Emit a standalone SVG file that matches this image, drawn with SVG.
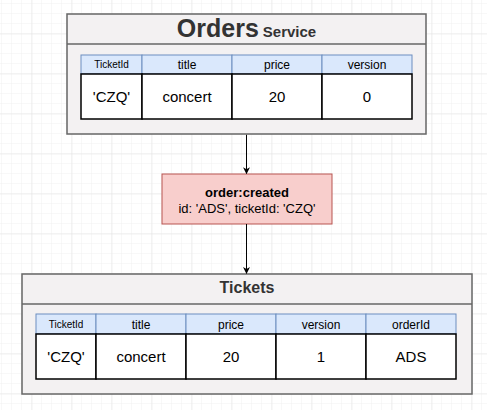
<svg xmlns="http://www.w3.org/2000/svg" width="487" height="410" viewBox="0 0 487 410">
<defs>
<pattern id="minor" x="2" y="4" width="10" height="10" patternUnits="userSpaceOnUse">
<path d="M10 0V10M0 10H10" fill="none" stroke="#f0f0f0" stroke-width="1"/>
</pattern>
<pattern id="major" x="-7.5" y="-5.5" width="40" height="40" patternUnits="userSpaceOnUse">
<path d="M40 0V40M0 40H40" fill="none" stroke="#e2e2e2" stroke-width="1"/>
</pattern>
<marker id="arr" viewBox="0 0 10 10" refX="9" refY="5" markerWidth="7" markerHeight="7" orient="auto" markerUnits="userSpaceOnUse">
<path d="M0 0L10 5L0 10L3 5Z" fill="#000"/>
</marker>
</defs>
<style>
text{font-family:"Liberation Sans",Arial,sans-serif;fill:#000;text-anchor:middle}
.svc{fill:#f3f1f2;stroke:#666;stroke-width:1.5}
.sep{stroke:#666;stroke-width:1.5}
.hd{fill:#dae8fc;stroke:#6c8ebf;stroke-width:1}
.cell{fill:#fff;stroke:#000;stroke-width:1.5}
.ht{font-size:12px}
.hs{font-size:10px}
.vt{font-size:15px}
.title{font-weight:bold;fill:#333}
</style>
<rect width="487" height="410" fill="#fff"/>
<rect width="487" height="410" fill="url(#minor)"/>
<rect width="487" height="410" fill="url(#major)"/>

<g id="orders">
<rect class="svc" x="67" y="14" width="359" height="120"/>
<line class="sep" x1="67" y1="44" x2="426" y2="44"/>
<text x="246.5" y="37" class="title"><tspan font-size="25">Orders</tspan><tspan font-size="15" dx="4">Service</tspan></text>
<rect class="hd" x="81" y="55" width="61" height="19"/>
<rect class="hd" x="142" y="55" width="90" height="19"/>
<rect class="hd" x="232" y="55" width="90" height="19"/>
<rect class="hd" x="322" y="55" width="90" height="19"/>
<text class="hs" x="111.5" y="68">TicketId</text>
<text class="ht" x="187" y="68.5">title</text>
<text class="ht" x="277" y="68.5">price</text>
<text class="ht" x="367" y="68.5">version</text>
<rect class="cell" x="81" y="74" width="61" height="45"/>
<rect class="cell" x="142" y="74" width="90" height="45"/>
<rect class="cell" x="232" y="74" width="90" height="45"/>
<rect class="cell" x="322" y="74" width="90" height="45"/>
<text class="vt" x="111.5" y="102">'CZQ'</text>
<text class="vt" x="187" y="102">concert</text>
<text class="vt" x="277" y="102">20</text>
<text class="vt" x="367" y="102">0</text>
</g>

<g id="event">
<rect x="162" y="174" width="170" height="50" fill="#f8cecc" stroke="#b85450" stroke-width="1"/>
<text x="247" y="197" font-size="13" font-weight="bold">order:created</text>
<text x="247" y="213" font-size="13">id: 'ADS', ticketId: 'CZQ'</text>
</g>

<g id="tickets">
<rect class="svc" x="22" y="274" width="450" height="120"/>
<line class="sep" x1="22" y1="304" x2="472" y2="304"/>
<text x="247" y="293" class="title" font-size="16">Tickets</text>
<rect class="hd" x="36" y="314" width="60" height="20"/>
<rect class="hd" x="96" y="314" width="90" height="20"/>
<rect class="hd" x="186" y="314" width="90" height="20"/>
<rect class="hd" x="276" y="314" width="90" height="20"/>
<rect class="hd" x="366" y="314" width="90" height="20"/>
<text class="hs" x="66" y="328">TicketId</text>
<text class="ht" x="141" y="328.5">title</text>
<text class="ht" x="231" y="328.5">price</text>
<text class="ht" x="321" y="328.5">version</text>
<text class="ht" x="411" y="328.5">orderId</text>
<rect class="cell" x="36" y="334" width="60" height="45"/>
<rect class="cell" x="96" y="334" width="90" height="45"/>
<rect class="cell" x="186" y="334" width="90" height="45"/>
<rect class="cell" x="276" y="334" width="90" height="45"/>
<rect class="cell" x="366" y="334" width="90" height="45"/>
<text class="vt" x="66" y="362">'CZQ'</text>
<text class="vt" x="141" y="362">concert</text>
<text class="vt" x="231" y="362">20</text>
<text class="vt" x="321" y="362">1</text>
<text class="vt" x="411" y="362">ADS</text>
</g>

<g id="connectors" stroke="#000" stroke-width="1" fill="none">
<line x1="246.5" y1="134.8" x2="246.5" y2="173.5" marker-end="url(#arr)"/>
<line x1="246.5" y1="224" x2="246.5" y2="273.3" marker-end="url(#arr)"/>
</g>
</svg>
